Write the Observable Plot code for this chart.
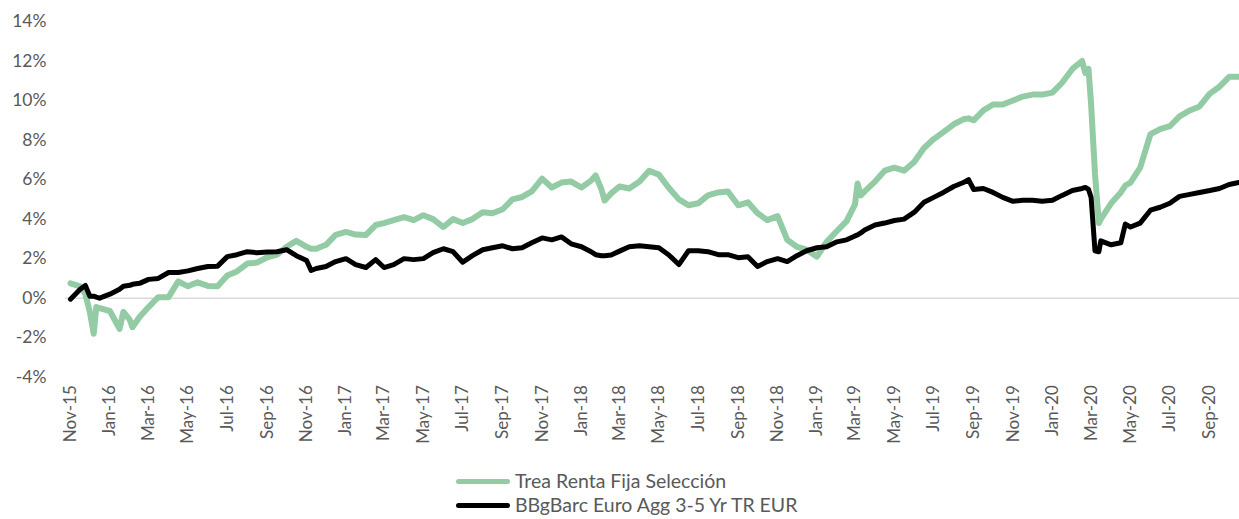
<!DOCTYPE html>
<html>
<head>
<meta charset="utf-8">
<script src="https://cdn.jsdelivr.net/npm/d3@7"></script>
<script src="https://cdn.jsdelivr.net/npm/@observablehq/plot@0.6"></script>
<style>
  html, body { margin: 0; padding: 0; background: #fff; }
  #chart { width: 1239px; height: 519px; position: relative; overflow: hidden; font-family: Lato, "Open Sans", sans-serif; color: #595959; }
  .legend { position: absolute; left: 456px; top: 469px; font-size: 19.5px; line-height: 24px; }
  .legend .row { display: flex; align-items: center; height: 24px; white-space: nowrap; }
  .legend .sw { width: 54px; height: 5px; border-radius: 3px; margin-right: 5px; }
</style>
</head>
<body>
<div id="chart"></div>
<script>
const seriesNames = ["Trea Renta Fija Selección", "BBgBarc Euro Agg 3-5 Yr TR EUR"];
const seriesColors = ["#93cba5", "#000000"];

const dates = [
  "2015-11-01","2015-11-16","2015-11-24","2015-12-01","2015-12-07","2015-12-11","2015-12-16",
  "2016-01-01","2016-01-16","2016-01-22","2016-02-01","2016-02-05","2016-02-16","2016-03-01","2016-03-16",
  "2016-04-01","2016-04-16","2016-05-01","2016-05-16","2016-06-01","2016-06-16","2016-07-01","2016-07-16",
  "2016-08-01","2016-08-16","2016-09-01","2016-09-16","2016-10-01","2016-10-16","2016-11-01","2016-11-08",
  "2016-11-16","2016-12-01","2016-12-16",
  "2017-01-01","2017-01-16","2017-02-01","2017-02-16","2017-03-01","2017-03-16","2017-04-01","2017-04-16",
  "2017-05-01","2017-05-16","2017-06-01","2017-06-16","2017-07-01","2017-07-16","2017-08-01","2017-08-16",
  "2017-09-01","2017-09-16","2017-10-01","2017-10-16","2017-11-01","2017-11-16","2017-12-01","2017-12-16",
  "2018-01-01","2018-01-16","2018-01-23","2018-02-01","2018-02-06","2018-02-16","2018-03-01","2018-03-16",
  "2018-04-01","2018-04-16","2018-05-01","2018-05-16","2018-06-01","2018-06-16","2018-07-01","2018-07-16",
  "2018-08-01","2018-08-16","2018-09-01","2018-09-16","2018-10-01","2018-10-16","2018-11-01","2018-11-16",
  "2018-12-01","2018-12-16",
  "2019-01-01","2019-01-16","2019-02-01","2019-02-16","2019-03-01","2019-03-05","2019-03-10","2019-03-16",
  "2019-04-01","2019-04-16","2019-05-01","2019-05-16","2019-06-01","2019-06-16","2019-07-01","2019-07-16",
  "2019-08-01","2019-08-16","2019-08-24","2019-09-01","2019-09-16","2019-10-01","2019-10-16","2019-11-01",
  "2019-11-16","2019-12-01","2019-12-16",
  "2020-01-01","2020-01-16","2020-02-01","2020-02-16","2020-02-21","2020-02-26","2020-03-01","2020-03-07",
  "2020-03-13","2020-03-16","2020-04-01","2020-04-16","2020-04-23","2020-05-01","2020-05-16","2020-06-01",
  "2020-06-16","2020-07-01","2020-07-16","2020-08-01","2020-08-16","2020-09-01","2020-09-16","2020-10-01",
  "2020-10-16"
];

const trea = [
  0.75, 0.6, 0.2, -0.7, -1.8, -0.45, -0.5,
  -0.65, -1.55, -0.7, -1.1, -1.47, -0.95, -0.45, 0.05,
  0.05, 0.85, 0.6, 0.8, 0.62, 0.6, 1.15, 1.35,
  1.75, 1.8, 2.07, 2.2, 2.6, 2.9, 2.6, 2.5,
  2.5, 2.7, 3.2,
  3.35, 3.22, 3.2, 3.7, 3.8, 3.95, 4.1, 3.95,
  4.2, 4.0, 3.6, 4.0, 3.8, 4.0, 4.35, 4.3,
  4.5, 5.0, 5.12, 5.4, 6.05, 5.6, 5.85, 5.9,
  5.6, 5.95, 6.21, 5.5, 4.94, 5.3, 5.65, 5.55,
  5.9, 6.45, 6.25, 5.6, 5.0, 4.7, 4.8, 5.2,
  5.35, 5.4, 4.7, 4.85, 4.3, 3.95, 4.15, 2.95,
  2.6, 2.45,
  2.1, 2.85, 3.4, 3.9, 4.75, 5.8, 5.2, 5.4,
  5.9, 6.45, 6.6, 6.45, 6.9, 7.6, 8.05, 8.4,
  8.8, 9.05, 9.1, 9.0, 9.5, 9.8, 9.8, 10.0,
  10.2, 10.3, 10.3,
  10.4, 10.9, 11.6, 12.0, 11.4, 11.6, 9.8, 6.3,
  3.8, 4.0, 4.8, 5.35, 5.7, 5.85, 6.6, 8.3,
  8.55, 8.7, 9.2, 9.5, 9.7, 10.35, 10.7, 11.2,
  11.2
];

const bbg = [
  -0.05, 0.45, 0.64, 0.1, 0.1, 0.05, 0.0,
  0.2, 0.45, 0.6, 0.65, 0.7, 0.75, 0.95, 1.0,
  1.3, 1.3, 1.38, 1.5, 1.6, 1.62, 2.1, 2.2,
  2.35, 2.3, 2.33, 2.35, 2.45, 2.15, 1.9, 1.4,
  1.5, 1.6, 1.85,
  2.0, 1.7, 1.55, 1.95, 1.55, 1.7, 2.0, 1.95,
  2.0, 2.3, 2.5, 2.35, 1.82, 2.15, 2.45, 2.55,
  2.65, 2.5, 2.55, 2.8, 3.05, 2.95, 3.1, 2.75,
  2.6, 2.35, 2.2, 2.15, 2.15, 2.18, 2.38, 2.6,
  2.65, 2.6, 2.55, 2.2, 1.7, 2.4, 2.4, 2.35,
  2.2, 2.2, 2.05, 2.1, 1.6, 1.85, 2.0, 1.85,
  2.15, 2.4,
  2.55, 2.6, 2.85, 2.95, 3.15, 3.2, 3.3, 3.45,
  3.7, 3.8, 3.93, 4.0, 4.35, 4.85, 5.1, 5.35,
  5.65, 5.85, 6.0, 5.5, 5.55, 5.35, 5.1, 4.9,
  4.95, 4.95, 4.9,
  4.95, 5.2, 5.45, 5.55, 5.6, 5.5, 5.1, 2.4,
  2.35, 2.9, 2.7, 2.8, 3.75, 3.6, 3.8, 4.45,
  4.6, 4.8, 5.15, 5.25, 5.35, 5.45, 5.55, 5.75,
  5.85
];

const yTicks = [-4, -2, 0, 2, 4, 6, 8, 10, 12, 14];
const xTickLabels = [
  "Nov-15","Jan-16","Mar-16","May-16","Jul-16","Sep-16","Nov-16","Jan-17","Mar-17","May-17",
  "Jul-17","Sep-17","Nov-17","Jan-18","Mar-18","May-18","Jul-18","Sep-18","Nov-18","Jan-19",
  "Mar-19","May-19","Jul-19","Sep-19","Nov-19","Jan-20","Mar-20","May-20","Jul-20","Sep-20"
];

const parseTick = d3.utcParse("%b-%y");
const xTicks = xTickLabels.map(parseTick);
const fmtTick = d3.utcFormat("%b-%y");

const rowsOf = (vals) => dates.map((d, i) => ({date: new Date(d + "T00:00Z"), value: vals[i]}));
const treaRows = rowsOf(trea);
const bbgRows = rowsOf(bbg);

const plot = Plot.plot({
  width: 1239,
  height: 445,
  marginLeft: 65,
  marginRight: 0,
  marginTop: 21,
  marginBottom: 68.3,
  style: {fontFamily: "Lato, 'Open Sans', sans-serif", fontSize: "17px", color: "#595959", background: "transparent", overflow: "visible"},
  x: {type: "utc", domain: [new Date("2015-10-24T06:00Z"), new Date("2020-10-17T00:00Z")], label: null},
  y: {domain: [-4, 14], label: null},
  marks: [
    Plot.ruleY([0], {stroke: "#d9d9d9", strokeWidth: 1.5}),
    Plot.axisY({ticks: yTicks, tickSize: 0, tickPadding: 19, tickFormat: d => d + "%", fontSize: 17.5}),
    Plot.axisX({ticks: xTicks, tickSize: 0, tickPadding: 8, tickRotate: -90, tickFormat: fmtTick, fontSize: 17}),
    Plot.line(treaRows, {x: "date", y: "value", stroke: seriesColors[0], strokeWidth: 6, strokeLinejoin: "round", strokeLinecap: "round"}),
    Plot.line(bbgRows, {x: "date", y: "value", stroke: seriesColors[1], strokeWidth: 5, strokeLinejoin: "round", strokeLinecap: "round"})
  ]
});

const chart = document.getElementById("chart");
chart.appendChild(plot);

const legend = document.createElement("div");
legend.className = "legend";
seriesNames.forEach((name, i) => {
  const row = document.createElement("div");
  row.className = "row";
  const sw = document.createElement("div");
  sw.className = "sw";
  sw.style.background = seriesColors[i];
  const label = document.createElement("span");
  label.textContent = name;
  row.appendChild(sw);
  row.appendChild(label);
  legend.appendChild(row);
});
chart.appendChild(legend);
</script>
</body>
</html>
